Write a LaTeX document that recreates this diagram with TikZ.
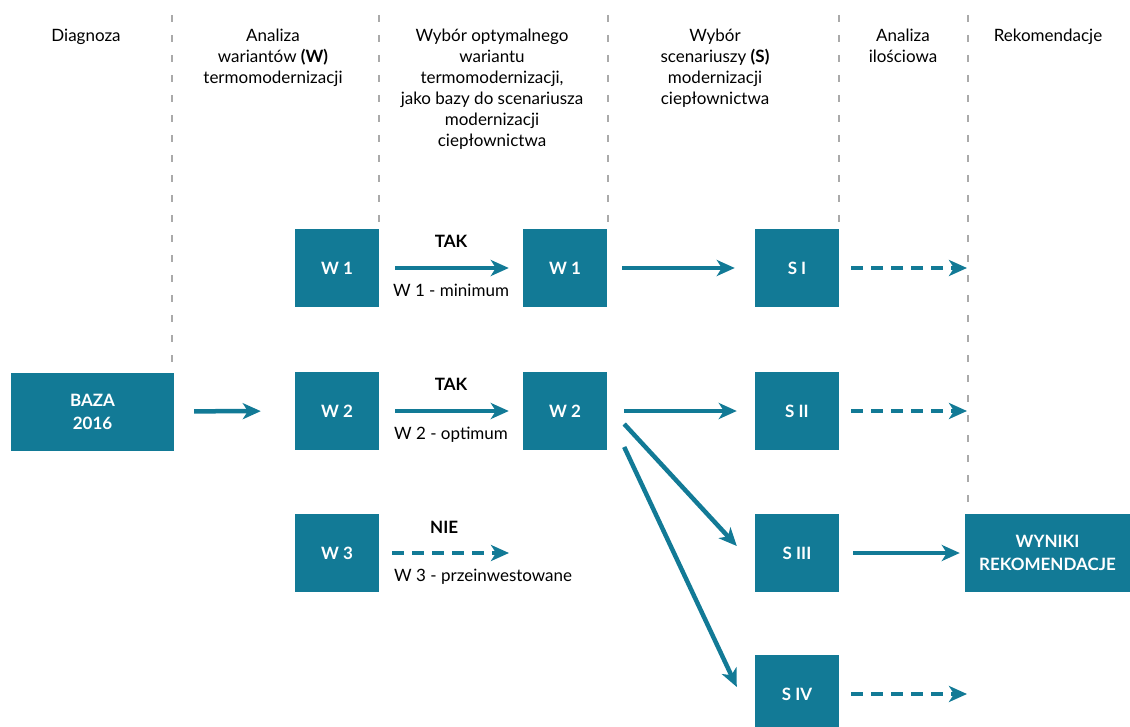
\documentclass[tikz,border=0pt]{standalone}
\usepackage{fontspec}
\setmainfont{Lato}
\usepackage{tikz}
\usetikzlibrary{arrows.meta,positioning,calc}
\definecolor{dfteal}{RGB}{18,122,150}
\definecolor{dfgray}{RGB}{170,170,170}
\tikzstyle{box} = [fill=dfteal, text=white, font=\fontsize{17}{23}\selectfont\bfseries, minimum width=84pt, minimum height=78pt, inner sep=0pt, align=center]
\tikzstyle{arrow} = [line width=4.5pt, color=dfteal, -{Stealth[length=18pt,width=16pt,inset=5pt]}]
\tikzstyle{dasharrow} = [arrow, line width=4pt, dash pattern=on 12pt off 8pt]
\tikzstyle{divider} = [line width=1.5pt, color=dfgray, dash pattern=on 7pt off 13pt]
\tikzstyle{head} = [font=\fontsize{17}{21}\selectfont, align=center, anchor=north, inner sep=0pt]
\tikzstyle{note} = [font=\fontsize{17}{21}\selectfont, text=black, inner sep=0pt]
\tikzstyle{notebold} = [note, font=\fontsize{17}{21}\selectfont\bfseries]

\begin{document}
\begin{tikzpicture}[x=1pt, y=-1pt]
    \path[use as bounding box, clip] (0,0) rectangle (1130,727);

    % Column dividers
    \draw[divider] (172,15) -- (172,368);
    \draw[divider] (379,15) -- (379,225);
    \draw[divider] (608,15) -- (608,225);
    \draw[divider] (839,15) -- (839,225);
    \draw[divider] (968,15) -- (968,508);

    % Headers
    \node[head] (hdiag) at (86,29) {Diagnoza};
    \node[head] (hwar) at (273,29) {Analiza\\wariantów \textbf{(W)}\\termomodernizacji};
    \node[head] (hopt) at (492,29) {Wybór optymalnego\\wariantu\\termomodernizacji,\\jako bazy do scenariusza\\modernizacji\\ciepłownictwa};
    \node[head] (hscen) at (715,29) {Wybór\\scenariuszy \textbf{(S)}\\modernizacji\\ciepłownictwa};
    \node[head] (hilo) at (903,29) {Analiza\\ilościowa};
    \node[head] (hrek) at (1048,29) {Rekomendacje};

    % Boxes
    \node[box, minimum width=163pt] (baza) at (92.5,411.5) {BAZA\\2016};
    \node[box] (w1a) at (337,268) {W 1};
    \node[box] (w2a) at (337,411) {W 2};
    \node[box] (w3a) at (337,553) {W 3};
    \node[box] (w1b) at (565,268) {W 1};
    \node[box] (w2b) at (565,411) {W 2};
    \node[box] (s1) at (797,268) {S I};
    \node[box] (s2) at (797,411) {S II};
    \node[box] (s3) at (797,553) {S III};
    \node[box] (s4) at (797,694) {S IV};
    \node[box, minimum width=165pt] (wyniki) at (1047.5,553) {WYNIKI\\REKOMENDACJE};

    % Open ends
    \coordinate (w3end) at (509,553);
    \coordinate (e1) at (967,268);
    \coordinate (e2) at (967,411);
    \coordinate (e4) at (967,694);

    % Arrows
    \draw[arrow, shorten <=20pt, shorten >=34pt] (baza) -- (w2a);
    \draw[arrow, shorten <=16pt, shorten >=14pt] (w1a) -- node[notebold, above=18pt] {TAK} node[note, below=14pt] {W 1 - minimum} (w1b);
    \draw[arrow, shorten <=16pt, shorten >=14pt] (w2a) -- node[notebold, above=18pt] {TAK} node[note, below=14pt] {W 2 - optimum} (w2b);
    \draw[dasharrow, shorten <=13pt] (w3a) -- node[notebold, above=18pt] {NIE} node[note, pos=0, anchor=north west, xshift=13pt, yshift=-14pt] {W 3 - przeinwestowane} (w3end);
    \draw[arrow, shorten <=15pt, shorten >=20pt] (w1b) -- (s1);
    \draw[arrow, shorten <=17pt, shorten >=18pt] (w2b) -- (s2);
    \draw[arrow] ([shift={(17,13)}]w2b.east) -- ([shift={(-18,-7)}]s3.west);
    \draw[arrow] ([shift={(17,36)}]w2b.east) -- ([shift={(-18,-7)}]s4.west);
    \draw[arrow, shorten <=14pt, shorten >=5pt] (s3) -- (wyniki);
    \draw[dasharrow, shorten <=12pt] (s1) -- (e1);
    \draw[dasharrow, shorten <=12pt] (s2) -- (e2);
    \draw[dasharrow, shorten <=12pt] (s4) -- (e4);
\end{tikzpicture}
\end{document}
